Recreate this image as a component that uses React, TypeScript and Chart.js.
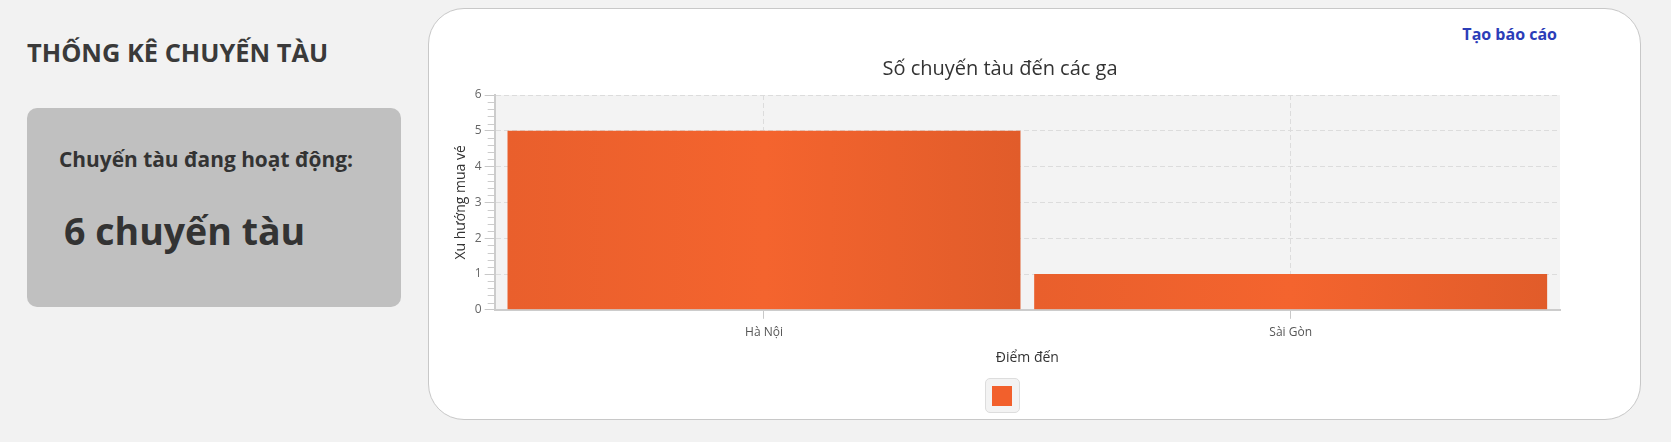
import React, { useEffect, useRef } from "react";
import { Chart, registerables } from "chart.js";

Chart.register(...registerables);

const categories = ["Hà Nội", "Sài Gòn"];
const tripCounts = [5, 1];
const yMin = 0;
const yMax = 6;
const yStep = 1;
const minorStep = 0.2;

const chartTitle = "Số chuyến tàu đến các ga";
const xAxisTitle = "Điểm đến";
const yAxisTitle = "Xu hướng mua vé";
const pageTitle = "THỐNG KÊ CHUYẾN TÀU";
const activeLabel = "Chuyến tàu đang hoạt động:";
const activeCount = 6;
const activeUnit = "chuyến tàu";
const reportLink = "Tạo báo cáo";

const FONT = "'Open Sans', 'Noto Sans', sans-serif";
const BAR_PCT = 0.974;
const X_EDGE_PAD = 0.0114; // extra category-axis padding on both ends (in category units)
const barLeft = "#E95F2C";
const barMid = "#F4642E";
const barRight = "#E15C2A";
const legendColor = "#F2602C";

const plotBg = {
  id: "plotBg",
  beforeDraw(chart: any) {
    const { ctx, chartArea } = chart;
    if (!chartArea) return;
    ctx.save();
    ctx.fillStyle = "#f3f3f3";
    ctx.fillRect(chartArea.left, chartArea.top, chartArea.right - chartArea.left, chartArea.bottom - chartArea.top);
    ctx.restore();
  },
};

const minorTicks = {
  id: "minorTicks",
  afterDraw(chart: any) {
    const y = chart.scales.y;
    if (!y) return;
    const { ctx } = chart;
    const x0 = y.right;
    ctx.save();
    ctx.strokeStyle = "#cccccc";
    ctx.lineWidth = 1;
    const n = Math.round((yMax - yMin) / minorStep);
    for (let i = 0; i <= n; i++) {
      const v = yMin + i * minorStep;
      if (Math.abs(v - Math.round(v)) < 1e-6) continue;
      const py = Math.round(y.getPixelForValue(v)) + 0.5;
      ctx.beginPath();
      ctx.moveTo(x0 - 7, py);
      ctx.lineTo(x0, py);
      ctx.stroke();
    }
    ctx.restore();
  },
};

function ChartCanvas() {
  const ref = useRef<HTMLCanvasElement | null>(null);
  useEffect(() => {
    if (!ref.current) return;
    const chart = new Chart(ref.current, {
      type: "bar",
      data: {
        labels: categories,
        datasets: [
          {
            label: "",
            data: tripCounts,
            categoryPercentage: 1,
            barPercentage: BAR_PCT,
            borderWidth: 0,
            backgroundColor: (c: any) => {
              const ch = c.chart;
              const xs = ch.scales && ch.scales.x;
              if (!xs || !ch.chartArea || c.dataIndex === undefined) return barMid;
              const center = xs.getPixelForValue(c.dataIndex);
              const spacing = Math.abs(xs.getPixelForValue(1) - xs.getPixelForValue(0));
              const half = (spacing * BAR_PCT) / 2;
              const g = ch.ctx.createLinearGradient(center - half, 0, center + half, 0);
              g.addColorStop(0, barLeft);
              g.addColorStop(0.5, barMid);
              g.addColorStop(1, barRight);
              return g;
            },
          },
        ],
      },
      options: {
        animation: false,
        responsive: false,
        maintainAspectRatio: false,
        layout: { padding: { left: 0, right: 4, top: 0, bottom: 2 } },
        plugins: {
          legend: { display: false },
          tooltip: { enabled: false },
          title: {
            display: true,
            text: chartTitle,
            color: "#333333",
            font: { family: FONT, size: 20, weight: "normal", lineHeight: 1.2 },
            padding: { top: 7, bottom: 14 },
          },
        },
        scales: {
          x: {
            offset: true,
            afterBuildTicks: (scale: any) => {
              scale._startValue = scale._startValue - X_EDGE_PAD;
              scale._valueRange = scale._valueRange + 2 * X_EDGE_PAD;
            },
            grid: {
              offset: false,
              color: "#dcdcdc",
              tickColor: "#c8c8c8",
              tickLength: 9,
              tickBorderDash: [],
            },
            border: { display: true, color: "#cccccc", width: 2, dash: [5, 3] },
            ticks: { color: "#555555", font: { family: FONT, size: 12 }, padding: 7 },
            title: {
              display: true,
              text: xAxisTitle,
              color: "#333333",
              font: { family: FONT, size: 14, lineHeight: 1.2 },
              padding: { top: 2, bottom: 4 },
            },
          },
          y: {
            min: yMin,
            max: yMax,
            ticks: { stepSize: yStep, color: "#666666", font: { family: FONT, size: 12 }, padding: 3 },
            grid: {
              color: "#dcdcdc",
              tickColor: "#c8c8c8",
              tickLength: 10,
              tickBorderDash: [],
            },
            border: { display: true, color: "#cccccc", width: 2, dash: [5, 3] },
            title: {
              display: true,
              text: yAxisTitle,
              color: "#333333",
              font: { family: FONT, size: 14, lineHeight: 1.2 },
              padding: { top: 13, bottom: 2 },
            },
          },
        },
      },
      plugins: [plotBg, minorTicks],
    });
    return () => chart.destroy();
  }, []);
  return (
    <canvas
      ref={ref}
      width={1124}
      height={322}
      style={{ position: "absolute", left: 440, top: 50, width: 1124, height: 322 }}
    />
  );
}

export default function App() {
  useEffect(() => {
    document.body.style.margin = "0";
    document.body.style.background = "#f2f2f2";
  }, []);
  return (
    <div
      style={{
        position: "relative",
        width: 1671,
        height: 442,
        background: "#f2f2f2",
        fontFamily: FONT,
        color: "#3a3a3a",
        overflow: "hidden",
      }}
    >
      <div style={{ position: "absolute", left: 27, top: 40.4, fontSize: 25.4, fontWeight: 700, lineHeight: 1, whiteSpace: "nowrap" }}>
        {pageTitle}
      </div>
      <div
        style={{
          position: "absolute",
          left: 27,
          top: 108,
          width: 374,
          height: 199,
          borderRadius: 10,
          background: "#c0c0c0",
        }}
      />
      <div style={{ position: "absolute", left: 59, top: 149.4, fontSize: 20.9, fontWeight: 700, lineHeight: 1, whiteSpace: "nowrap", color: "#333" }}>
        {activeLabel}
      </div>
      <div style={{ position: "absolute", left: 64, top: 211.7, fontSize: 37.5, fontWeight: 700, lineHeight: 1, whiteSpace: "nowrap", color: "#333" }}>
        {activeCount} {activeUnit}
      </div>
      <div
        style={{
          position: "absolute",
          left: 428,
          top: 8,
          width: 1213,
          height: 412,
          boxSizing: "border-box",
          border: "1px solid #c8c8c8",
          borderRadius: 36,
          background: "#ffffff",
        }}
      />
      <div
        style={{
          position: "absolute",
          right: 1671 - 1557,
          top: 26,
          fontSize: 16,
          fontWeight: 700,
          lineHeight: 1,
          color: "#2b3db8",
          whiteSpace: "nowrap",
        }}
      >
        {reportLink}
      </div>
      <ChartCanvas />
      <div
        style={{
          position: "absolute",
          left: 985,
          top: 378,
          width: 35,
          height: 35,
          boxSizing: "border-box",
          border: "1px solid #dddddd",
          borderRadius: 5,
          background: "#f3f3f3",
        }}
      >
        <div style={{ position: "absolute", left: 6, top: 7, width: 20, height: 20, background: legendColor }} />
      </div>
    </div>
  );
}
